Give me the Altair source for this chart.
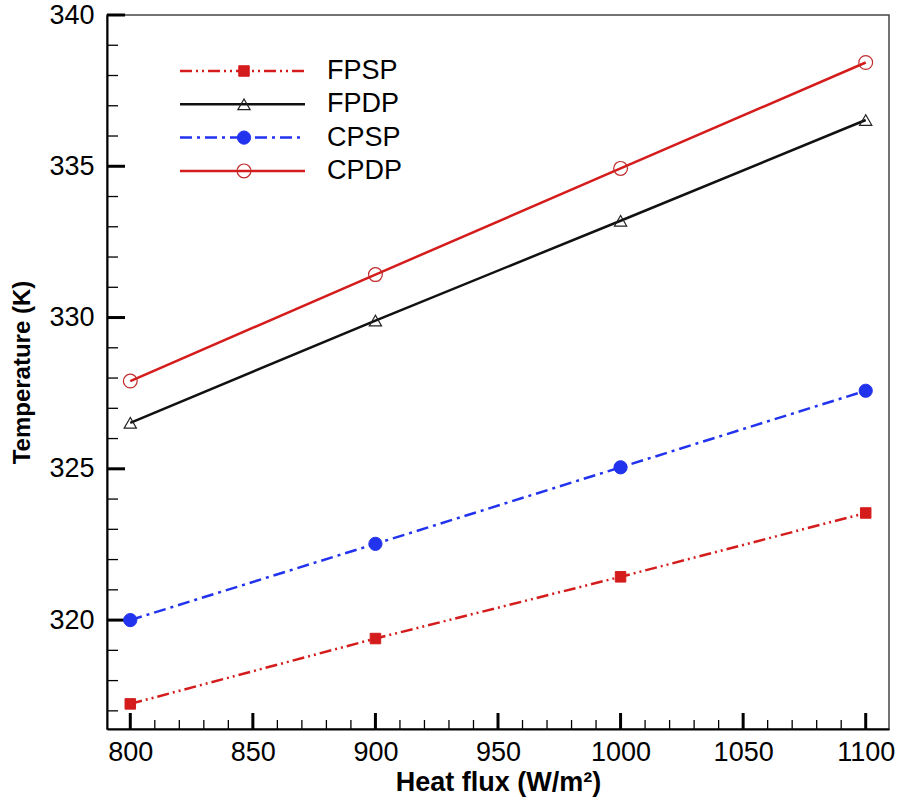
import altair as alt
import pandas as pd

# ---------------- data ----------------
heat_flux = [800, 900, 1000, 1100]
fpsp = [317.23, 319.39, 321.43, 323.54]
fpdp = [326.52, 329.90, 333.20, 336.53]
cpsp = [320.00, 322.52, 325.05, 327.58]
cpdp = [327.90, 331.42, 334.93, 338.43]

series_names = ["FPSP", "FPDP", "CPSP", "CPDP"]
series_values = [fpsp, fpdp, cpsp, cpdp]

major_x = [800, 850, 900, 950, 1000, 1050, 1100]
minor_x = [810, 820, 830, 840, 860, 870, 880, 890, 910, 920, 930, 940,
           960, 970, 980, 990, 1010, 1020, 1030, 1040, 1060, 1070, 1080, 1090]
major_y = [320, 325, 330, 335, 340]
minor_y = [317, 318, 319, 321, 322, 323, 324, 326, 327, 328, 329,
           331, 332, 333, 334, 336, 337, 338, 339]

X_DOMAIN = [790.5, 1109.5]
Y_DOMAIN = [316.4, 340.0]

W, H = 782, 714
FONT = "Liberation Sans"

styles = {
    "FPSP": dict(color="#d41c1c", dash=[12, 4, 2, 4, 2, 4], shape="square",
                 filled=True, size=110, mstroke="#d41c1c", mwidth=1),
    "FPDP": dict(color="#111111", dash=None, shape="triangle-up",
                 filled=False, size=150, mstroke="#222222", mwidth=1.2),
    "CPSP": dict(color="#2233ee", dash=[12, 5, 3, 5], shape="circle",
                 filled=True, size=175, mstroke="#2233ee", mwidth=1),
    "CPDP": dict(color="#d41c1c", dash=None, shape="circle",
                 filled=False, size=190, mstroke="#c02a2a", mwidth=1.2),
}

rows = []
for name, vals in zip(series_names, series_values):
    for f, t in zip(heat_flux, vals):
        rows.append({"series": name, "flux": f, "temp": t})
df = pd.DataFrame(rows)


def X(field):
    return alt.X(f"{field}:Q",
                 scale=alt.Scale(domain=X_DOMAIN, nice=False, zero=False),
                 axis=alt.Axis(values=major_x, title="Heat flux (W/m²)",
                               titleFontSize=27, labelPadding=10,
                               titlePadding=4, format="d"))


def Y(field):
    return alt.Y(f"{field}:Q",
                 scale=alt.Scale(domain=Y_DOMAIN, nice=False, zero=False),
                 axis=alt.Axis(values=major_y, title="Temperature (K)",
                               titleFontSize=24, labelPadding=13,
                               titlePadding=14, format="d"))


layers = []

# inward ticks
layers.append(alt.Chart(pd.DataFrame({"t": major_y})).mark_rule(
    color="black", strokeWidth=3).encode(y=Y("t"), x=alt.value(0), x2=alt.value(18)))
layers.append(alt.Chart(pd.DataFrame({"t": minor_y})).mark_rule(
    color="black", strokeWidth=1.3).encode(y=Y("t"), x=alt.value(0), x2=alt.value(11)))
layers.append(alt.Chart(pd.DataFrame({"t": major_x})).mark_rule(
    color="black", strokeWidth=3).encode(x=X("t"), y=alt.value(H), y2=alt.value(H - 16)))
layers.append(alt.Chart(pd.DataFrame({"t": minor_x})).mark_rule(
    color="black", strokeWidth=1.3).encode(x=X("t"), y=alt.value(H), y2=alt.value(H - 9)))

# series
for name in series_names:
    st = styles[name]
    sub = df[df.series == name]
    line_kw = dict(color=st["color"], strokeWidth=2.5)
    if st["dash"]:
        line_kw["strokeDash"] = st["dash"]
    layers.append(alt.Chart(sub).mark_line(**line_kw).encode(x=X("flux"), y=Y("temp")))
    pt_kw = dict(shape=st["shape"], size=st["size"], stroke=st["mstroke"],
                 strokeWidth=st["mwidth"], opacity=1)
    if st["filled"]:
        pt_kw.update(filled=True, fill=st["color"])
    else:
        pt_kw.update(filled=False)
    layers.append(alt.Chart(sub).mark_point(**pt_kw).encode(x=X("flux"), y=Y("temp")))

# legend (layout positions in pixels)
leg_y0, leg_dy = 56, 33.3
for i, name in enumerate(series_names):
    st = styles[name]
    ly = leg_y0 + i * leg_dy
    ldf = pd.DataFrame({"label": [name]})
    rule_kw = dict(color=st["color"], strokeWidth=2.5)
    if st["dash"]:
        rule_kw["strokeDash"] = st["dash"]
    layers.append(alt.Chart(ldf).mark_rule(**rule_kw).encode(
        x=alt.value(73), x2=alt.value(198), y=alt.value(ly)))
    pt_kw = dict(shape=st["shape"], size=st["size"], stroke=st["mstroke"],
                 strokeWidth=st["mwidth"], opacity=1)
    if st["filled"]:
        pt_kw.update(filled=True, fill=st["color"])
    else:
        pt_kw.update(filled=False)
    layers.append(alt.Chart(ldf).mark_point(**pt_kw).encode(
        x=alt.value(137), y=alt.value(ly)))
    layers.append(alt.Chart(ldf).mark_text(
        align="left", baseline="middle", fontSize=27, font=FONT, color="black").encode(
        x=alt.value(220), y=alt.value(ly), text="label:N"))

chart = alt.layer(*layers).properties(
    width=W, height=H,
    autosize=alt.AutoSizeParams(type="none"),
    padding={"left": 107, "top": 15, "right": 8, "bottom": 76},
    background="white",
).configure_view(
    stroke="#444444", strokeWidth=1.5
).configure_axis(
    grid=False, ticks=False, domainColor="black", domainWidth=2,
    labelFont=FONT, labelFontSize=27, labelColor="black", labelFlush=False,
    titleFont=FONT, titleFontWeight="bold", titleColor="black",
)

chart.save("out.html", embed_options={"renderer": "svg", "actions": False})
